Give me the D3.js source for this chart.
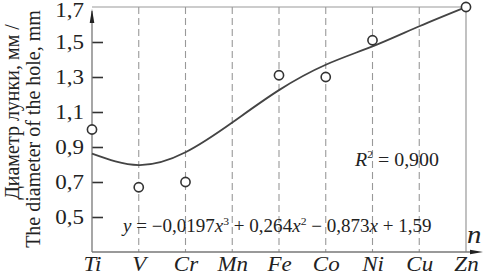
<!DOCTYPE html>
<html><head><meta charset="utf-8">
<script src="https://cdn.jsdelivr.net/npm/d3@7"></script>
</head>
<body style="margin:0;background:#fff">
<svg id="chart" width="488" height="276" style="display:block"></svg>
<script>
const categories = ["Ti","V","Cr","Mn","Fe","Co","Ni","Cu","Zn"];
const measured = [1.00, 0.67, 0.70, null, 1.31, 1.30, 1.51, null, 1.70];
const fitted = [0.862, 0.797, 0.870, 1.040, 1.225, 1.370, 1.475, 1.590, 1.700];
const yTicks = [0.5, 0.7, 0.9, 1.1, 1.3, 1.5, 1.7];
const yDomain = [0.3, 1.7];
const yTitle = ["Диаметр лунки, мм /", "The diameter of the hole, mm"];
const xTitle = "n";

const FONT = '"Liberation Serif", monospace';
const svg = d3.select("#chart").attr("font-family", FONT);
const L = 92, R = 466, T = 7, B = 252;
const SX = 1.15;
const fmt = v => d3.format(".1f")(v).replace(".", ",");

const x = d3.scalePoint().domain(categories).range([L, R]);
const y = d3.scaleLinear().domain(yDomain).range([B, T]);

// frame top and right
svg.append("path").attr("d", `M${L},${y(yDomain[1])}H${R}V${B}`)
  .attr("fill","none").attr("stroke","#999").attr("stroke-width",1.2);

// dashed grid
svg.append("g").selectAll("line").data(categories.slice(1, -1)).join("line")
  .attr("x1", d => x(d)).attr("x2", d => x(d))
  .attr("y1", y(yDomain[1])).attr("y2", y(yDomain[0]))
  .attr("stroke","#999").attr("stroke-width",1.1).attr("stroke-dasharray","7,4");

// y axis
const yAxis = svg.append("g").attr("transform", `translate(${L},0)`)
  .call(d3.axisLeft(y).tickValues(yTicks).tickFormat(fmt).tickSizeInner(-11).tickSizeOuter(0).tickPadding(8));
yAxis.attr("font-family", FONT).attr("font-size", 20);
yAxis.select(".domain").remove();
yAxis.selectAll(".tick line").attr("stroke","#333").attr("stroke-width",1.6)
  .filter(d => d === yDomain[1]).remove();
yAxis.selectAll(".tick text").attr("font-family", FONT).attr("font-size", 20).attr("fill","#222")
  .attr("transform", `scale(${SX},1)`).attr("x", -8 / SX).attr("dy","0.34em");
yAxis.selectAll(".tick").filter(d => d === yDomain[1]).select("text").attr("dy","0.45em");
svg.append("line").attr("x1", L).attr("x2", L).attr("y1", B).attr("y2", 11)
  .attr("stroke","#777").attr("stroke-width",1.3);
svg.append("path").attr("d", `M${L},9L${L-2.3},23L${L+2.3},23Z`).attr("fill","#222");

// x axis
const xAxis = svg.append("g").attr("transform", `translate(0,${B})`)
  .call(d3.axisBottom(x).tickSize(0).tickPadding(5));
xAxis.attr("font-family", FONT).attr("font-size", 20);
xAxis.select(".domain").remove();
xAxis.selectAll(".tick text").attr("font-family", FONT).attr("font-size", 20)
  .attr("font-style","italic").attr("fill","#222")
  .attr("transform", `scale(${SX},1)`);
svg.append("line").attr("x1", L).attr("x2", 472).attr("y1", B).attr("y2", B)
  .attr("stroke","#777").attr("stroke-width",1.3);
svg.append("path").attr("d", `M483,${B}L470,${B-2.3}L470,${B+2.3}Z`).attr("fill","#222");
svg.append("text").attr("transform", `translate(467,243) scale(${SX},1)`)
  .attr("font-family", FONT).attr("font-size", 25).attr("font-style","italic").attr("fill","#222").text(xTitle);

// fitted curve
const line = d3.line().x((d,i) => x(categories[i])).y(d => y(d)).curve(d3.curveNatural);
svg.append("path").datum(fitted).attr("d", line)
  .attr("fill","none").attr("stroke","#444").attr("stroke-width",1.8);

// measured points
svg.append("g").selectAll("circle")
  .data(measured.map((v,i) => ({c: categories[i], v})).filter(d => d.v !== null))
  .join("circle")
  .attr("cx", d => x(d.c)).attr("cy", d => y(d.v)).attr("r", 4.6)
  .attr("fill","#fff").attr("stroke","#333").attr("stroke-width",1.6);

// y title
svg.append("text").attr("transform","translate(19,112) rotate(-90)")
  .attr("font-family", FONT).attr("fill","#222")
  .attr("text-anchor","middle").attr("font-size",20).text(yTitle[0]);
svg.append("text").attr("transform","translate(40,129) rotate(-90)")
  .attr("font-family", FONT).attr("fill","#222")
  .attr("text-anchor","middle").attr("font-size",20).text(yTitle[1]);

// equation
const eq = svg.append("text").attr("font-family", FONT).attr("font-size",18).attr("fill","#222");
const parts = [
  ["y","i"],[" = −0,0197",""],["x","i"],["3","s"],[" + 0,264",""],["x","i"],["2","s"],
  [" − 0,873",""],["x","i"],[" + 1,59",""]
];
let raised = false;
parts.forEach(([t,k]) => {
  const ts = eq.append("tspan").text(t);
  if (k === "i") ts.attr("font-style","italic");
  if (k === "s") { ts.attr("font-size",11).attr("dy",-7); raised = true; }
  else if (raised) { ts.attr("dy",7); raised = false; }
});
const eqW = eq.node().getComputedTextLength();
eq.attr("transform", `translate(123,232) scale(${309/eqW},1)`);

const r2 = svg.append("text").attr("font-family", FONT).attr("font-size",19).attr("fill","#222");
r2.append("tspan").attr("font-style","italic").text("R");
r2.append("tspan").attr("font-size",11).attr("dy",-8).text("2");
r2.append("tspan").attr("dy",8).text(" = 0,900");
const r2W = r2.node().getComputedTextLength();
r2.attr("transform", `translate(355,166) scale(${84/r2W},1)`);
</script>
</body></html>
